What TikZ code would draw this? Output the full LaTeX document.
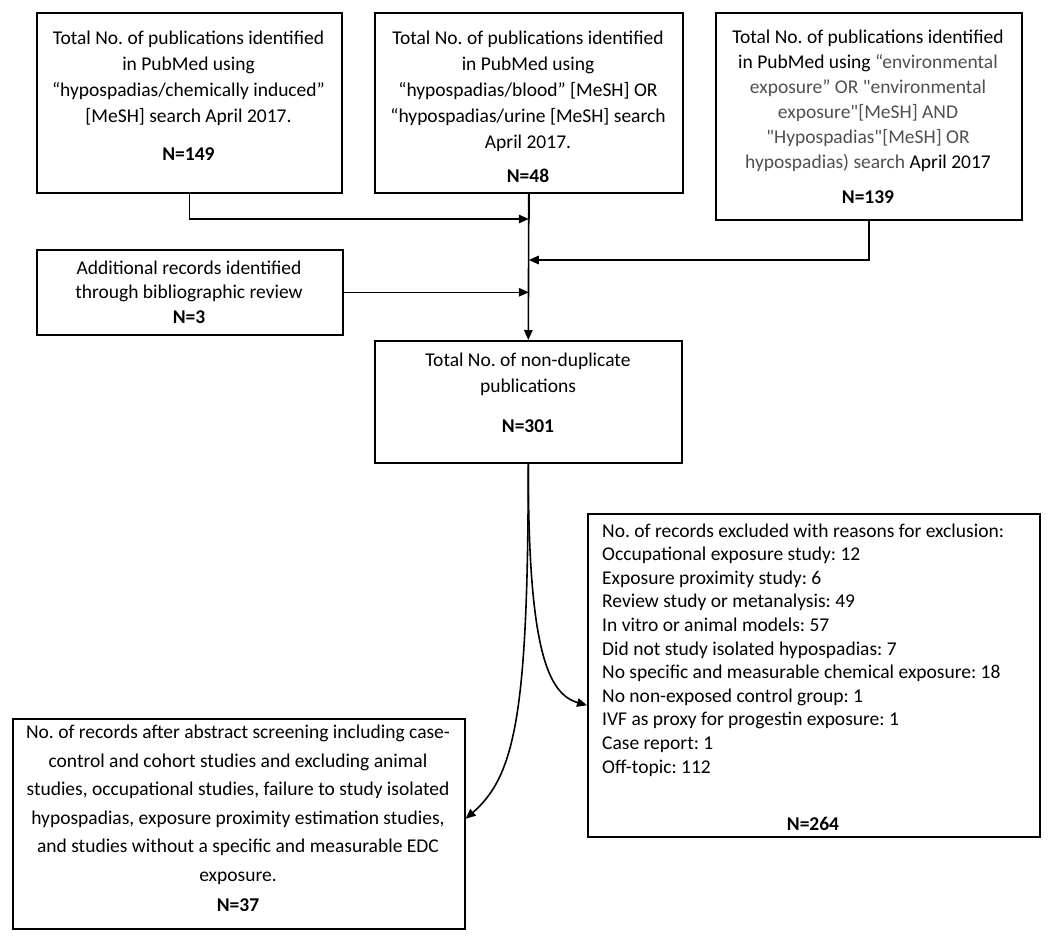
\documentclass[tikz,border=0pt]{standalone}
\usepackage{fontspec}
\setmainfont{Carlito}
\usetikzlibrary{arrows.meta}
\definecolor{greytxt}{RGB}{80,80,80}
\frenchspacing
\newcommand{\dq}{\textquotedbl}
\begin{document}
\begin{tikzpicture}[x=1pt,y=-1pt,
  box/.style={draw, line width=1.6pt, inner sep=0pt, anchor=north west},
  txt/.style={inner sep=0pt, align=center, font=\fontsize{19.5}{26}\selectfont},
  ltxt/.style={inner sep=0pt, align=left, font=\fontsize{19.5}{23.6}\selectfont},
  arr/.style={line width=1.6pt, -{Triangle[length=10pt,width=8.5pt]}}]
\useasboundingbox (0,0) rectangle (1050,938);
\fill[white] (0,0) rectangle (1050,938);
% boxes
\node[box, minimum width=305pt, minimum height=180pt] (b1) at (36,12) {};
\node[box, minimum width=308pt, minimum height=180pt] (b2) at (374,12) {};
\node[box, minimum width=306pt, minimum height=207pt] (b3) at (715,12) {};
\node[box, minimum width=306pt, minimum height=85pt] (add) at (36,249) {};
\node[box, minimum width=307pt, minimum height=122pt] (m) at (374,340) {};
\node[box, minimum width=452pt, minimum height=323pt] (ex) at (587,513) {};
\node[box, minimum width=452pt, minimum height=210pt] (bl) at (12,718) {};
% texts (anchor base = last line baseline)
\node[txt, anchor=base] (t1) at (188.5,160) {Total No. of publications identified\\in PubMed using\\“hypospadias/chemically induced”\\{[MeSH]} search April 2017.\\[12pt]\textbf{N=149}};
\node[txt, anchor=base] (t2) at (528,182) {Total No. of publications identified\\in PubMed using\\“hypospadias/blood” [MeSH] OR\\“hypospadias/urine [MeSH] search\\April 2017.\\[8pt]\textbf{N=48}};
\node[txt, anchor=base, font=\fontsize{19.5}{25}\selectfont] (t3) at (868,203) {Total No. of publications identified\\in PubMed using \textcolor{greytxt}{“environmental}\\\textcolor{greytxt}{exposure” OR \dq environmental}\\\textcolor{greytxt}{exposure\dq[MeSH] AND}\\\textcolor{greytxt}{\dq Hypospadias\dq[MeSH] OR}\\\textcolor{greytxt}{hypospadias) search} April 2017\\[10pt]\textbf{N=139}};
\node[txt, anchor=base, font=\fontsize{19.5}{24.5}\selectfont] (t4) at (189,323) {Additional records identified\\through bibliographic review\\\textbf{N=3}};
\node[txt, anchor=base] (t5) at (528,432) {Total No. of non-duplicate\\publications\\[14pt]\textbf{N=301}};
\node[ltxt, anchor=base west] (t6) at (602,773) {No. of records excluded with reasons for exclusion:\\Occupational exposure study: 12\\Exposure proximity study: 6\\Review study or metanalysis: 49\\In vitro or animal models: 57\\Did not study isolated hypospadias: 7\\No specific and measurable chemical exposure: 18\\No non-exposed control group: 1\\IVF as proxy for progestin exposure: 1\\Case report: 1\\Off-topic: 112};
\node[txt, anchor=base] (t7) at (813,830) {\textbf{N=264}};
\node[txt, anchor=base, font=\fontsize{19.5}{28.5}\selectfont] (t8) at (238,911) {No. of records after abstract screening including case-\\control and cohort studies and excluding animal\\studies, occupational studies, failure to study isolated\\hypospadias, exposure proximity estimation studies,\\and studies without a specific and measurable EDC\\exposure.\\[1.5pt]\textbf{N=37}};
% junctions
\coordinate (j1) at (b2.south |- {(0,219)});
\coordinate (j2) at (b2.south |- {(0,260)});
\coordinate (j3) at (b2.south |- add.east);
\coordinate (exin) at ([yshift=-30pt]ex.west);
\coordinate (blin) at ([yshift=5pt]bl.east);
% connectors
\draw[line width=1.6pt] (b2.south) -- (j1);
\draw[arr] (b1.south) |- (j1);
\draw[arr] (b3.south) |- (j2);
\draw[arr] (add.east) -- (j3);
\draw[arr] (b2.south) -- (m.north);
\draw[arr] (m.south) .. controls (528,650) and (548,694) .. (exin);
\draw[arr] (m.south) .. controls (528,710) and (516,775) .. (blin);
\end{tikzpicture}
\end{document}
